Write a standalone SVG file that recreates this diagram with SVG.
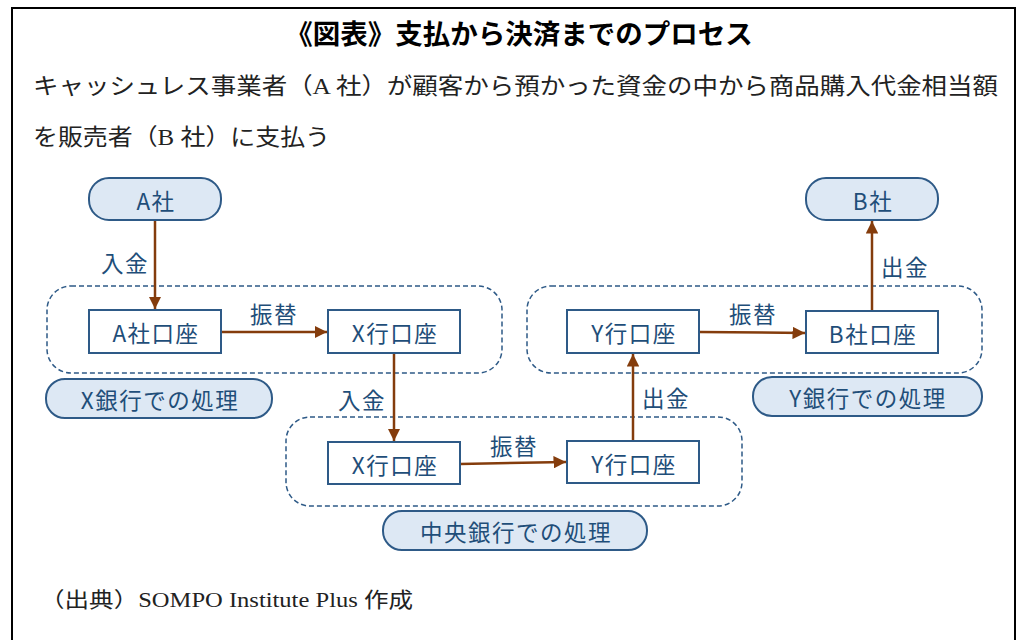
<svg xmlns="http://www.w3.org/2000/svg" width="1017" height="640" viewBox="0 0 1017 640">
<defs>
<marker id="ah" viewBox="0 0 10 10" refX="10" refY="5" markerWidth="5" markerHeight="5" orient="auto" markerUnits="strokeWidth">
<path d="M0,0 L10,5 L0,10 z" fill="#843c0c"/>
</marker>
<style>
.frame{fill:none;stroke:#000;stroke-width:2}
.title{font-family:"Noto Sans CJK JP",sans-serif;font-weight:bold;font-size:27.5px;fill:#000}
.desc{font-family:"Liberation Serif","Noto Sans CJK JP",serif;font-size:23px;fill:#222}
.src{font-family:"Liberation Serif","Noto Sans CJK JP",serif;font-size:21px;fill:#222}
.pill{fill:#dde8f4;stroke:#2e5a87;stroke-width:2}
.box{fill:#fff;stroke:#2e5a87;stroke-width:2}
.grp{fill:none;stroke:#2e5a87;stroke-width:1.5;stroke-dasharray:5 3}
.lbl{font-family:"Noto Sans CJK JP",sans-serif;font-size:22.5px;letter-spacing:1.5px;fill:#1f4e79;text-anchor:middle;dominant-baseline:central}
.edge{fill:none;stroke:#843c0c;stroke-width:2.5;marker-end:url(#ah)}
</style>
</defs>
<rect width="1017" height="640" fill="#fff"/>
<path class="frame" d="M12,640 V8 H1015 V640"/>
<text class="title" x="519" y="44" text-anchor="middle">《図表》支払から決済までのプロセス</text>
<text class="desc" x="33" y="94" textLength="965" lengthAdjust="spacingAndGlyphs">キャッシュレス事業者（A 社）が顧客から預かった資金の中から商品購入代金相当額</text>
<text class="desc" x="33" y="145" textLength="297" lengthAdjust="spacingAndGlyphs">を販売者（B 社）に支払う</text>

<g id="groups">
<rect id="grp-x" class="grp" x="47" y="286" width="455" height="87" rx="24"/>
<rect id="grp-y" class="grp" x="527" y="286" width="455" height="87" rx="24"/>
<rect id="grp-c" class="grp" x="286" y="417" width="456" height="89" rx="24"/>
</g>

<g id="connectors">
<line class="edge" x1="155" y1="220" x2="155" y2="309"/>
<line class="edge" x1="221" y1="332" x2="327" y2="332"/>
<line class="edge" x1="394" y1="353" x2="394" y2="441"/>
<line class="edge" x1="460" y1="464" x2="566" y2="462"/>
<line class="edge" x1="633" y1="441" x2="633" y2="354"/>
<line class="edge" x1="699" y1="332" x2="805" y2="333"/>
<line class="edge" x1="872" y1="311" x2="872" y2="221"/>
<text class="lbl" x="125" y="262">入金</text>
<text class="lbl" x="274" y="313">振替</text>
<text class="lbl" x="362" y="399">入金</text>
<text class="lbl" x="514" y="445">振替</text>
<text class="lbl" x="666" y="397">出金</text>
<text class="lbl" x="753" y="313">振替</text>
<text class="lbl" x="905" y="266">出金</text>
</g>

<g id="node-a"><rect class="pill" x="89" y="178" width="132" height="42" rx="20"/><text class="lbl" x="156" y="200">A社</text></g>
<g id="node-b"><rect class="pill" x="806" y="178" width="132" height="42" rx="20"/><text class="lbl" x="873" y="200">B社</text></g>
<g id="node-a-acct"><rect class="box" x="89" y="310" width="132" height="43"/><text class="lbl" x="156" y="332">A社口座</text></g>
<g id="node-x-acct"><rect class="box" x="328" y="310" width="132" height="43"/><text class="lbl" x="395" y="332">X行口座</text></g>
<g id="node-y-acct"><rect class="box" x="567" y="310" width="132" height="43"/><text class="lbl" x="634" y="332">Y行口座</text></g>
<g id="node-b-acct"><rect class="box" x="806" y="311" width="132" height="42"/><text class="lbl" x="873" y="333">B社口座</text></g>
<g id="node-cx-acct"><rect class="box" x="328" y="442" width="132" height="42"/><text class="lbl" x="395" y="464">X行口座</text></g>
<g id="node-cy-acct"><rect class="box" x="567" y="441" width="132" height="42"/><text class="lbl" x="634" y="463">Y行口座</text></g>
<g id="node-x-bank"><rect class="pill" x="46" y="379" width="226" height="39" rx="19"/><text class="lbl" x="160" y="399">X銀行での処理</text></g>
<g id="node-y-bank"><rect class="pill" x="753" y="377" width="229" height="39" rx="19"/><text class="lbl" x="868" y="397">Y銀行での処理</text></g>
<g id="node-c-bank"><rect class="pill" x="383" y="511" width="264" height="39" rx="19"/><text class="lbl" x="516" y="531">中央銀行での処理</text></g>

<text class="src" x="40" y="607" textLength="373" lengthAdjust="spacingAndGlyphs">（出典）SOMPO Institute Plus 作成</text>
</svg>
